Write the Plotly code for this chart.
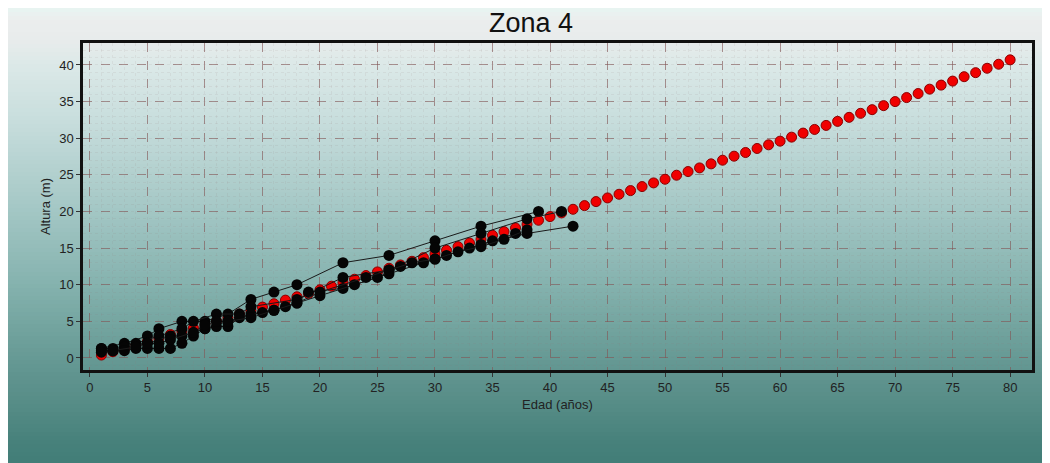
import plotly.graph_objects as go
import numpy as np

# ---------------- data ----------------
model_age = list(range(1, 81))
model_height = [0.4, 0.85, 1.3, 1.8, 2.25, 2.7, 3.2, 3.65, 4.1, 4.6,
                5.05, 5.5, 6.0, 6.45, 6.95, 7.4, 7.9, 8.35, 8.8, 9.3,
                9.8, 10.3, 10.75, 11.25, 11.75, 12.25, 12.7, 13.2, 13.7, 14.2,
                14.7, 15.2, 15.7, 16.2, 16.75, 17.25, 17.75, 18.25, 18.8, 19.3,
                19.8, 20.3, 20.8, 21.35, 21.85, 22.35, 22.85, 23.4, 23.9, 24.4,
                24.95, 25.45, 25.95, 26.5, 27.0, 27.55, 28.05, 28.6, 29.1, 29.6,
                30.15, 30.7, 31.2, 31.75, 32.3, 32.85, 33.4, 33.9, 34.45, 35.0,
                35.55, 36.1, 36.7, 37.25, 37.8, 38.4, 38.95, 39.55, 40.1, 40.7]

tree1_age = [1, 3, 5, 6, 8, 10, 12, 14, 16, 18, 22, 26, 30, 34, 39]
tree1_h = [1.3, 2, 3, 4, 5, 5, 6, 8, 9, 10, 13, 14, 16, 18, 20]

tree2_age = [1, 2, 4, 6, 8, 9, 11, 13, 14, 18, 22, 26, 30, 34, 38, 41]
tree2_h = [1.3, 1.3, 2, 3, 4, 5, 6, 6, 7, 8, 11, 12, 15, 17, 19, 20]

tree3_age = [1, 2, 3, 5, 7, 8, 10, 12, 14, 16, 18, 19, 22, 26, 30, 34, 38, 42]
tree3_h = [1, 1, 1.5, 2, 3, 3, 4, 5, 6, 6.5, 7.5, 9, 9.5, 11.5, 13.5, 15.5, 17, 18]

tree4_age = [1, 2, 3, 4, 5, 6, 7, 8, 9, 10, 11, 12, 13, 15, 17, 20, 23, 25, 27, 29, 31, 33, 35, 37]
tree4_h = [0.8, 1, 1, 1.3, 1.3, 1.3, 1.3, 2, 3, 4, 4.3, 4.3, 5.5, 6.2, 7, 8.5, 10, 11, 12.5, 13, 14, 15, 16, 17]

tree5_age = [2, 4, 5, 6, 7, 9, 10, 11, 12, 14, 16, 18, 20, 24, 26, 28, 30, 32, 34, 36, 38]
tree5_h = [1, 1.5, 2, 2, 2.5, 3.5, 4.5, 5, 5, 5.5, 6.5, 7.5, 9, 11, 12, 13, 13.5, 14.5, 15.2, 16.2, 17.5]

trees = [(tree1_age, tree1_h), (tree2_age, tree2_h), (tree3_age, tree3_h),
         (tree4_age, tree4_h), (tree5_age, tree5_h)]

x_ticks = list(range(0, 81, 5))
y_ticks = list(range(0, 41, 5))

# ---------------- figure ----------------
FW, FH = 1050, 455          # page body adds an 8px offset
OFF = 8
L, R, T, B = 83 - OFF, 1032 - OFF, 43 - OFF, 370 - OFF
W, H = R - L, B - T

fig = go.Figure()

fig.add_trace(go.Scatter(
    x=model_age, y=model_height, mode="markers",
    marker=dict(color="#f00000", size=10, line=dict(color="#8a0000", width=1)),
    showlegend=False, hoverinfo="skip"))

for a, h in trees:
    fig.add_trace(go.Scatter(
        x=a, y=h, mode="lines+markers",
        line=dict(color="#1a1a1a", width=1),
        marker=dict(color="#050505", size=11),
        showlegend=False, hoverinfo="skip"))

def px_x(p):
    return (p - L) / W
def px_y(p):
    return (B - p) / H

# background gradient (stripes), screen-pixel stops converted to figure pixels
stops_py = [p - OFF for p in [7, 20, 40, 60, 120, 200, 280, 340, 370, 400, 440, 463]]
stops_c = [(232, 246, 243), (236, 238, 238), (232, 236, 236), (222, 234, 233),
           (200, 222, 221), (168, 202, 200), (135, 180, 176), (110, 160, 155),
           (98, 150, 145), (88, 142, 136), (72, 130, 124), (66, 126, 120)]
shapes = []
step = 4
for p in range(0, FH, step):
    mid = p + step / 2
    c = [int(np.interp(mid, stops_py, [s[i] for s in stops_c])) for i in range(3)]
    shapes.append(dict(type="rect", xref="paper", yref="paper",
                       x0=px_x(-2), x1=px_x(FW + 2), y0=px_y(min(p + step, FH + 2)) - 0.002, y1=px_y(p - (1 if p == 0 else 0)),
                       fillcolor=f"rgb({c[0]},{c[1]},{c[2]})", line=dict(width=0), layer="below"))

fig.update_layout(
    width=FW, height=FH,
    margin=dict(l=L, r=FW - R, t=T, b=FH - B),
    paper_bgcolor="white", plot_bgcolor="rgba(0,0,0,0)",
    shapes=shapes,
    title=dict(text="Zona 4", x=(531 - OFF) / FW, xanchor="center", y=1 - (23 - OFF) / FH, yanchor="middle",
               font=dict(family="Liberation Sans, Arial", size=27, color="#111")),
    font=dict(family="Liberation Sans, Arial", color="#222"),
)

fig.update_xaxes(
    range=[-0.6, 81.9], tickvals=x_ticks, ticks="outside", ticklen=4, tickcolor="#333",
    tickfont=dict(size=13, color="#222"),
    showline=True, linecolor="#111", linewidth=2.5, mirror=True,
    showgrid=True, gridcolor="rgba(130,85,85,0.6)", griddash="dash", gridwidth=1,
    zeroline=False,
    minor=dict(dtick=1, showgrid=True, gridcolor="rgba(150,120,120,0.1)", griddash="dot", gridwidth=1),
    title=dict(text="Edad (años)", font=dict(size=13, color="#222"), standoff=6))

fig.update_yaxes(
    range=[-1.64, 43.0], tickvals=y_ticks, ticks="outside", ticklen=4, tickcolor="#333",
    tickfont=dict(size=13, color="#222"),
    showline=True, linecolor="#111", linewidth=2.5, mirror=True,
    showgrid=True, gridcolor="rgba(130,85,85,0.6)", griddash="dash", gridwidth=1,
    zeroline=False,
    minor=dict(dtick=1, showgrid=True, gridcolor="rgba(150,120,120,0.1)", griddash="dot", gridwidth=1),
    title=dict(text="Altura (m)", font=dict(size=13, color="#222"), standoff=6))

fig.write_html("out.html")
